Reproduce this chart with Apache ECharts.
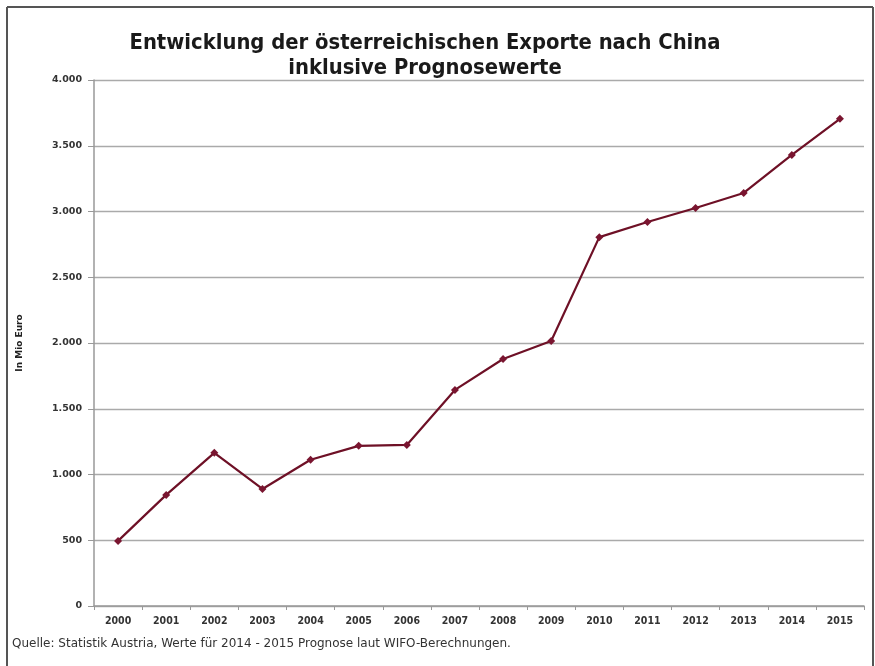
<!DOCTYPE html>
<html><head><meta charset="utf-8">
<script src="https://cdn.jsdelivr.net/npm/echarts@6/dist/echarts.min.js"></script>
<style>html,body{margin:0;padding:0;background:#fff;}#c{width:875px;height:666px;}</style>
</head><body><div id="c"></div>
<script>
const years = ['2000','2001','2002','2003','2004','2005','2006','2007','2008','2009','2010','2011','2012','2013','2014','2015'];
const exportsMio = [495, 845, 1165, 890, 1112, 1218, 1225, 1643, 1878, 2015, 2805, 2920, 3027, 3141, 3430, 3705];
const yTicks = {min: 0, max: 4000, interval: 500};
const titleLines = ['Entwicklung der österreichischen Exporte nach China', 'inklusive Prognosewerte'];
const yName = 'In Mio Euro';
const sourceText = 'Quelle: Statistik Austria, Werte für 2014 - 2015 Prognose laut WIFO-Berechnungen.';

const fmt = v => String(v).replace(/\B(?=(\d{3})+(?!\d))/g, '.');
const chart = echarts.init(document.getElementById('c'));
chart.setOption({
  backgroundColor: '#fff',
  animation: false,
  title: {
    text: titleLines.join('\n'),
    left: 420, textAlign: 'center', top: 26,
    textStyle: {fontFamily: 'DejaVu Sans Condensed', fontWeight: 'bold', fontSize: 21.8, lineHeight: 25, color: '#1a1a1a'}
  },
  graphic: [
    {type: 'line', shape: {x1: 7, y1: 7, x2: 873, y2: 7}, style: {stroke: '#555', lineWidth: 2}},
    {type: 'line', shape: {x1: 7, y1: 7, x2: 7, y2: 666}, style: {stroke: '#555', lineWidth: 2}},
    {type: 'line', shape: {x1: 873, y1: 7, x2: 873, y2: 666}, style: {stroke: '#555', lineWidth: 2}},
    {type: 'text', left: 12, top: 638, style: {text: sourceText, fontFamily: 'DejaVu Sans', fontSize: 12, fill: '#333'}}
  ],
  grid: {left: 94, right: 11, top: 80, bottom: 60, containLabel: false},
  xAxis: {
    type: 'category', data: years, boundaryGap: true,
    axisLine: {lineStyle: {color: '#999', width: 1.5}},
    axisTick: {show: true, length: 4, lineStyle: {color: '#999'}},
    axisLabel: {color: '#333', fontFamily: 'DejaVu Sans Condensed', fontWeight: 'bold', fontSize: 10.5, margin: 10}
  },
  yAxis: {
    type: 'value', min: yTicks.min, max: yTicks.max, interval: yTicks.interval,
    name: yName, nameLocation: 'middle', nameGap: 70, nameRotate: 90,
    nameTextStyle: {fontFamily: 'DejaVu Sans', fontWeight: 'bold', fontSize: 9, color: '#222'},
    axisLine: {show: true, lineStyle: {color: '#999', width: 1.5}},
    axisTick: {show: true, length: 6, inside: false, lineStyle: {color: '#999'}},
    axisLabel: {color: '#333', fontFamily: 'DejaVu Sans', fontWeight: 'bold', fontSize: 9.5, margin: 12, formatter: fmt},
    splitLine: {lineStyle: {color: '#aaa', width: 1.3}}
  },
  series: [{
    type: 'line', data: exportsMio,
    symbol: 'diamond', symbolSize: 8,
    lineStyle: {color: '#6e1026', width: 2.2},
    itemStyle: {color: '#7a1530'}
  }]
});
</script></body></html>
